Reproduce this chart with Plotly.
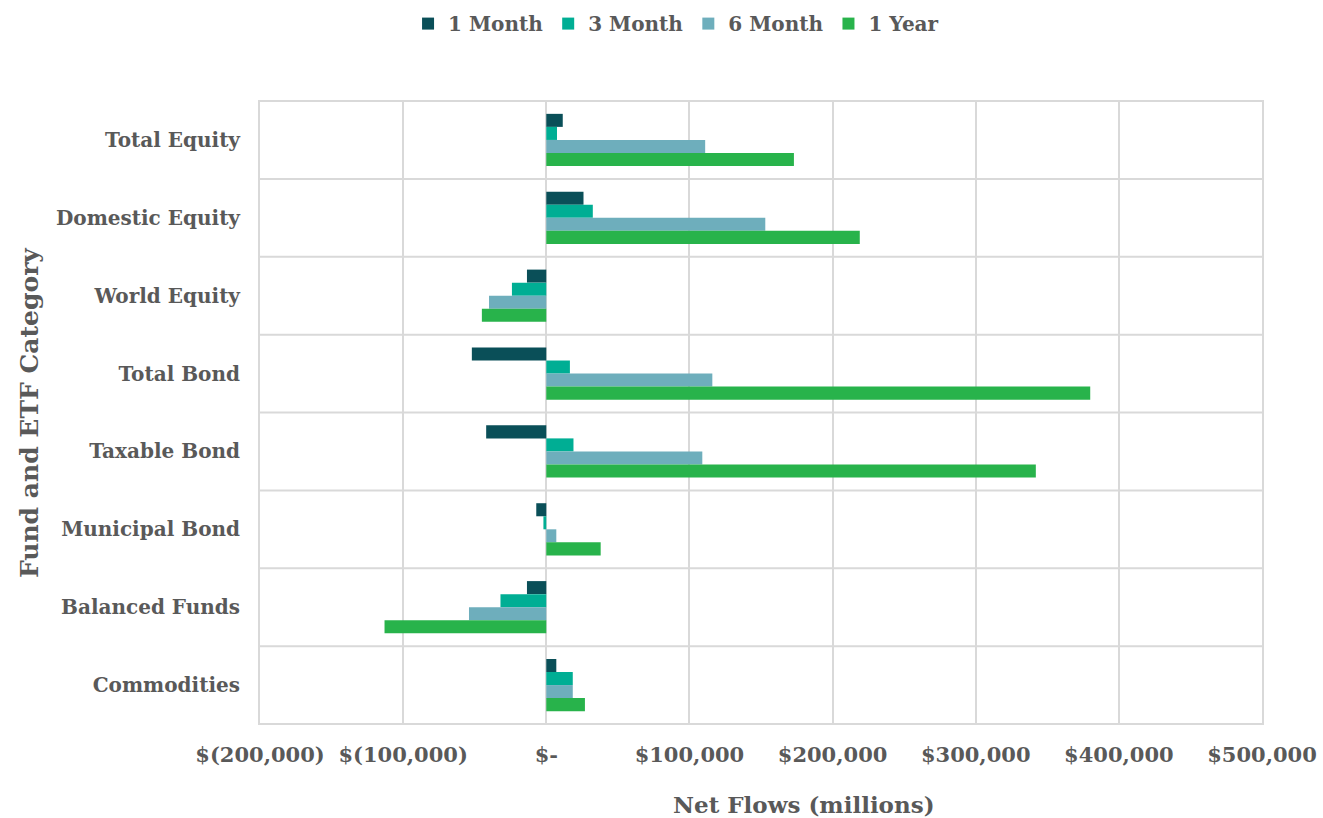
import plotly.graph_objects as go

categories = ["Total Equity", "Domestic Equity", "World Equity", "Total Bond",
              "Taxable Bond", "Municipal Bond", "Balanced Funds", "Commodities"]
series_names = ["1 Month", "3 Month", "6 Month", "1 Year"]
one_month = [11500, 26000, -13500, -52000, -42000, -7000, -13500, 7000]
three_month = [7500, 32500, -24000, 16500, 19000, -2000, -32000, 18500]
six_month = [111000, 153000, -40000, 116000, 109000, 7000, -54000, 18500]
one_year = [173000, 219000, -45000, 380000, 342000, 38000, -113000, 27000]
colors = ["#0A4F58", "#00AE94", "#6EAEBC", "#28B34B"]
tick_vals = [-200000, -100000, 0, 100000, 200000, 300000, 400000, 500000]
tick_text = ["$(200,000)", "$(100,000)", "$-", "$100,000", "$200,000",
             "$300,000", "$400,000", "$500,000"]

FONT = "DejaVu Serif"
TXT = "#595959"
GRID = "#D9D9D9"

fig = go.Figure()
for name, vals, col in zip(series_names, [one_month, three_month, six_month, one_year], colors):
    fig.add_trace(go.Bar(y=categories, x=vals, name=name, orientation="h",
                         marker=dict(color=col, line=dict(width=0))))

shapes = []
for i in range(len(categories) + 1):
    shapes.append(dict(type="line", xref="paper", yref="y", x0=0, x1=1,
                       y0=i - 0.5, y1=i - 0.5, line=dict(color=GRID, width=2), layer="below"))

fig.update_layout(
    width=1323, height=818,
    margin=dict(l=260, r=61, t=100, b=93),
    paper_bgcolor="white", plot_bgcolor="white",
    barmode="group", bargap=0.33, bargroupgap=0,
    font=dict(family=FONT, color=TXT, size=18),
    shapes=shapes,
    legend=dict(orientation="h", xref="container", yref="container",
                x=0.511, xanchor="center", y=0.995, yanchor="top",
                font=dict(family=FONT, size=20, color=TXT, weight="bold"),
                itemwidth=30, traceorder="normal"),
    xaxis=dict(range=[-200000, 500000], tickvals=tick_vals, ticktext=tick_text,
               showgrid=True, gridcolor=GRID, gridwidth=2, zeroline=True,
               zerolinecolor=GRID, zerolinewidth=2, showline=False,
               ticks="", ticklabelstandoff=15, automargin=False,
               tickfont=dict(family=FONT, size=21, color=TXT, weight="bold")),
    yaxis=dict(autorange="reversed", showgrid=False, ticks="", ticklabelstandoff=14,
               tickfont=dict(family=FONT, size=20, color=TXT, weight="bold"),
               showline=True, linecolor=GRID, linewidth=2, mirror=True, automargin=False),
    annotations=[
        dict(text="Fund and ETF Category", xref="paper", yref="paper",
             x=-0.230, xanchor="center", y=0.5, yanchor="middle",
             textangle=-90, showarrow=False,
             font=dict(family=FONT, size=25, color=TXT, weight="bold")),
        dict(text="Net Flows (millions)", xref="paper", yref="paper",
             x=0.5427, xanchor="center", y=-0.127, yanchor="middle",
             showarrow=False,
             font=dict(family=FONT, size=23, color=TXT, weight="bold")),
    ],
)

fig.write_html("out.html")
